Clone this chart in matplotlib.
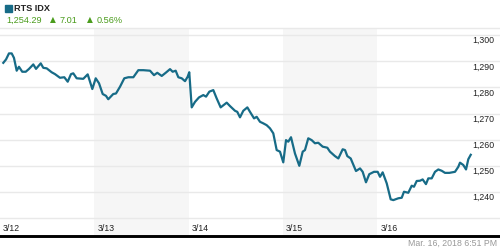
import matplotlib
matplotlib.use("Agg")
import matplotlib.pyplot as plt
import matplotlib.transforms as mtransforms

plt.rcParams['font.family'] = ['Liberation Sans', 'DejaVu Sans']

# ---- data ----
title = "RTS IDX"
last_price = "1,254.29"
change = "7.01"
change_pct = "0.56%"
timestamp = "Mar. 16, 2018 6:51 PM"

day_labels = ["3/12", "3/13", "3/14", "3/15", "3/16"]
shaded_days = [1, 3]
y_ticks = [1230, 1240, 1250, 1260, 1270, 1280, 1290, 1300]
y_labeled = [1240, 1250, 1260, 1270, 1280, 1290, 1300]

# time in trading days since 3/12 open
t = [0.035, 0.064, 0.095, 0.124, 0.148, 0.177, 0.201, 0.236, 0.273, 0.308,
     0.353, 0.382, 0.432, 0.459, 0.495, 0.548, 0.583, 0.636, 0.682, 0.718,
     0.753, 0.777, 0.813, 0.883, 0.930, 0.954, 0.979, 1.015, 1.050, 1.089,
     1.124, 1.148, 1.201, 1.230, 1.273, 1.318, 1.361, 1.414, 1.467, 1.520,
     1.591, 1.633, 1.668, 1.715, 1.757, 1.803, 1.831, 1.863, 1.891, 1.927,
     1.962, 1.990, 2.007, 2.033, 2.068, 2.110, 2.156, 2.185, 2.220, 2.262,
     2.298, 2.340, 2.404, 2.439, 2.492, 2.516, 2.545, 2.580, 2.623, 2.651,
     2.694, 2.722, 2.757, 2.792, 2.828, 2.863, 2.898, 2.934, 2.969, 3.004,
     3.033, 3.057, 3.086, 3.128, 3.174, 3.210, 3.234, 3.269, 3.305, 3.340,
     3.375, 3.422, 3.471, 3.499, 3.552, 3.588, 3.634, 3.659, 3.683, 3.719,
     3.775, 3.818, 3.846, 3.881, 3.916, 3.966, 4.005, 4.030, 4.058, 4.101,
     4.143, 4.171, 4.224, 4.260, 4.284, 4.330, 4.366, 4.390, 4.419, 4.454,
     4.482, 4.517, 4.542, 4.578, 4.613, 4.648, 4.684, 4.719, 4.765, 4.825,
     4.860, 4.878, 4.913, 4.942, 4.966, 4.992]
v = [1289.4, 1290.7, 1293.0, 1293.0, 1291.3, 1286.4, 1287.9, 1286.0, 1286.0, 1287.1,
     1288.8, 1287.1, 1289.2, 1287.5, 1287.3, 1285.8, 1285.1, 1283.7, 1283.9, 1282.2,
     1285.1, 1285.4, 1283.5, 1283.3, 1285.0, 1282.2, 1279.4, 1283.5, 1281.6, 1277.5,
     1276.8, 1275.5, 1277.5, 1277.7, 1280.3, 1283.5, 1283.9, 1283.9, 1286.6, 1286.6,
     1286.4, 1284.7, 1285.6, 1284.4, 1285.6, 1287.0, 1286.0, 1286.4, 1283.9, 1283.5,
     1282.4, 1284.1, 1285.8, 1272.4, 1274.5, 1276.2, 1277.1, 1276.5, 1278.4, 1279.0,
     1275.8, 1272.4, 1274.2, 1272.9, 1271.1, 1270.7, 1268.6, 1271.1, 1272.4, 1270.7,
     1268.2, 1268.8, 1266.9, 1266.3, 1265.6, 1264.4, 1262.5, 1256.1, 1255.5, 1251.4,
     1259.9, 1259.3, 1261.0, 1254.8, 1250.1, 1255.5, 1256.1, 1260.6, 1259.9, 1258.7,
     1258.9, 1257.4, 1257.0, 1255.5, 1253.8, 1252.9, 1256.4, 1256.1, 1253.8, 1252.9,
     1248.1, 1249.1, 1247.8, 1243.8, 1246.9, 1247.8, 1247.8, 1245.9, 1247.6, 1243.4,
     1237.3, 1237.0, 1237.7, 1237.9, 1240.2, 1239.8, 1242.5, 1242.1, 1244.3, 1244.4,
     1244.9, 1243.1, 1245.3, 1245.3, 1247.8, 1248.7, 1248.2, 1247.4, 1247.4, 1247.8,
     1249.7, 1251.3, 1250.4, 1248.7, 1252.6, 1254.3]

# ---- styling ----
line_color = "#176b87"
green = "#4a9c1c"
grid_color = "#e9e9e9"
shade_color = "#f6f6f6"

fig = plt.figure(figsize=(5, 2.5), dpi=100)
ax = fig.add_axes([0, 1 - 236 / 250, 1, 208 / 250])
ax.set_xlim(0, 500 / 94.3)
ax.set_ylim(1223.3, 1302.7)

for d in shaded_days:
    ax.axvspan(d, d + 1, color=shade_color, lw=0, zorder=0)

ax.set_yticks(y_ticks)
ax.yaxis.grid(True, color=grid_color, lw=1)
ax.set_axisbelow(True)
ax.tick_params(left=False, bottom=False, labelleft=False, labelbottom=False)
ax.set_xticks([])
for s in ["left", "right"]:
    ax.spines[s].set_visible(False)
ax.spines["top"].set_color(grid_color)
ax.spines["top"].set_linewidth(1)
ax.spines["bottom"].set_color("black")
ax.spines["bottom"].set_linewidth(2.1)

ax.plot(t, v, color=line_color, lw=1.6, solid_joinstyle="round", zorder=3)

# y labels (inside, right, just below gridline)
ytrans = mtransforms.blended_transform_factory(ax.transAxes, ax.transData)
for val in y_labeled:
    ax.annotate(f"{val:,}", xy=(0.9886, val), xycoords=ytrans,
                xytext=(0, -4), textcoords="offset points",
                ha="right", va="center", fontsize=6.3, color="#222222")

# x labels
xtrans = mtransforms.blended_transform_factory(ax.transData, ax.transAxes)
for i, lab in enumerate(day_labels):
    ax.annotate(lab, xy=(i, 0.037), xycoords=xtrans,
                xytext=(2.2, 0), textcoords="offset points",
                ha="left", va="center", fontsize=6.3, color="#222222")

# header
fig.patches.append(plt.Rectangle((5 / 500, 1 - 12 / 250), 7 / 500, 7 / 250,
                                 transform=fig.transFigure, color=line_color))
fig.text(14 / 500, 1 - 8.5 / 250, title, fontsize=6.6, fontweight="bold",
         color="#222222", ha="left", va="center")
fig.text(6 / 500, 1 - 20.5 / 250, last_price, fontsize=6.6, color=green,
         ha="left", va="center")
fig.text(49.5 / 500, 1 - 19.5 / 250, "\u25B2", fontsize=5.5, color=green,
         ha="left", va="center", family=["DejaVu Sans"])
fig.text(60 / 500, 1 - 20.5 / 250, change, fontsize=6.6, color=green,
         ha="left", va="center")
fig.text(86.5 / 500, 1 - 19.5 / 250, "\u25B2", fontsize=5.5, color=green,
         ha="left", va="center", family=["DejaVu Sans"])
fig.text(97 / 500, 1 - 20.5 / 250, change_pct, fontsize=6.6, color=green,
         ha="left", va="center")

fig.text(497 / 500, 1 - 243.5 / 250, timestamp, fontsize=6.3, color="#999999",
         ha="right", va="center")

fig.savefig("out.png", dpi=100)
